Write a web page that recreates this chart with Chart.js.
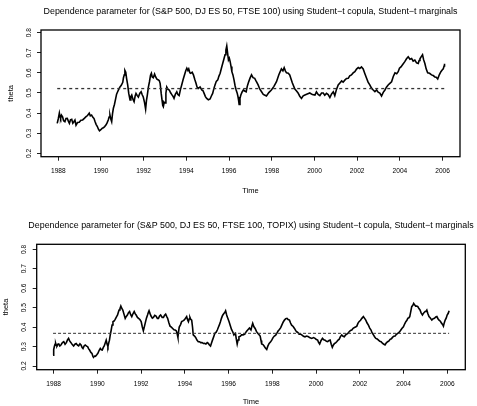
<!DOCTYPE html>
<html>
<head>
<meta charset="utf-8">
<script src="https://cdn.jsdelivr.net/npm/chart.js@4.4.1/dist/chart.umd.min.js"></script>
<style>
  html, body { margin: 0; padding: 0; background: #fff; }
  body { width: 477px; height: 406px; position: relative; overflow: hidden; }
  canvas { position: absolute; left: 0; }
  #topChart { top: 0; }
  #bottomChart { top: 200px; }
</style>
</head>
<body>
<canvas id="topChart" width="477" height="200"></canvas>
<canvas id="bottomChart" width="477" height="210"></canvas>
<script>
// tick labels
const yearTicks = [1988, 1990, 1992, 1994, 1996, 1998, 2000, 2002, 2004, 2006];
const thetaTicks = [0.2, 0.3, 0.4, 0.5, 0.6, 0.7, 0.8];

// panel 1: S&P 500, DJ ES 50, FTSE 100
const years1 = [
  1987.95, 1988.00, 1988.05, 1988.08, 1988.11, 1988.15, 1988.20, 1988.25, 1988.31, 1988.36,
  1988.42, 1988.47, 1988.52, 1988.57, 1988.63, 1988.68, 1988.73, 1988.78, 1988.83, 1988.90,
  1988.98, 1989.06, 1989.14, 1989.22, 1989.30, 1989.37, 1989.45, 1989.50, 1989.56, 1989.62,
  1989.67, 1989.72, 1989.77, 1989.83, 1989.88, 1989.93, 1989.98, 1990.05, 1990.11, 1990.17,
  1990.23, 1990.28, 1990.34, 1990.38, 1990.42, 1990.46, 1990.50, 1990.54, 1990.58, 1990.63,
  1990.69, 1990.73, 1990.78, 1990.84, 1990.89, 1990.95, 1991.02, 1991.05, 1991.09, 1991.12,
  1991.16, 1991.20, 1991.25, 1991.30, 1991.36, 1991.40, 1991.44, 1991.50, 1991.55, 1991.60,
  1991.64, 1991.70, 1991.75, 1991.82, 1991.88, 1991.93, 1991.98, 1992.04, 1992.09, 1992.13,
  1992.17, 1992.22, 1992.27, 1992.32, 1992.36, 1992.40, 1992.45, 1992.51, 1992.56, 1992.62,
  1992.69, 1992.73, 1992.77, 1992.82, 1992.86, 1992.89, 1992.92, 1992.96, 1993.00, 1993.04,
  1993.08, 1993.14, 1993.20, 1993.26, 1993.31, 1993.37, 1993.42, 1993.48, 1993.55, 1993.60,
  1993.66, 1993.72, 1993.78, 1993.85, 1993.91, 1993.97, 1994.02, 1994.07, 1994.11, 1994.16,
  1994.20, 1994.27, 1994.33, 1994.39, 1994.45, 1994.50, 1994.56, 1994.64, 1994.72, 1994.78,
  1994.83, 1994.89, 1994.95, 1995.03, 1995.11, 1995.17, 1995.23, 1995.29, 1995.34, 1995.40,
  1995.47, 1995.52, 1995.58, 1995.64, 1995.70, 1995.76, 1995.81, 1995.85, 1995.89, 1995.93,
  1995.97, 1996.01, 1996.05, 1996.09, 1996.13, 1996.18, 1996.23, 1996.28, 1996.33, 1996.38,
  1996.42, 1996.45, 1996.47, 1996.51, 1996.55, 1996.61, 1996.67, 1996.73, 1996.80, 1996.85,
  1996.91, 1996.98, 1997.05, 1997.12, 1997.20, 1997.28, 1997.36, 1997.44, 1997.52, 1997.60,
  1997.68, 1997.75, 1997.86, 1997.98, 1998.10, 1998.22, 1998.33, 1998.45, 1998.52, 1998.58,
  1998.64, 1998.69, 1998.77, 1998.84, 1998.96, 1999.08, 1999.15, 1999.23, 1999.31, 1999.39,
  1999.47, 1999.55, 1999.66, 1999.78, 1999.90, 2000.02, 2000.09, 2000.17, 2000.25, 2000.33,
  2000.41, 2000.48, 2000.56, 2000.64, 2000.72, 2000.80, 2000.88, 2000.95, 2001.03, 2001.11,
  2001.19, 2001.27, 2001.34, 2001.42, 2001.50, 2001.58, 2001.65, 2001.73, 2001.81, 2001.89,
  2001.97, 2002.05, 2002.12, 2002.20, 2002.28, 2002.36, 2002.44, 2002.51, 2002.59, 2002.67,
  2002.75, 2002.83, 2002.91, 2002.98, 2003.06, 2003.14, 2003.22, 2003.30, 2003.37, 2003.45,
  2003.53, 2003.61, 2003.69, 2003.77, 2003.85, 2003.92, 2003.98, 2004.05, 2004.14, 2004.23,
  2004.31, 2004.39, 2004.47, 2004.55, 2004.62, 2004.70, 2004.78, 2004.86, 2004.90, 2004.94,
  2005.00, 2005.06, 2005.11, 2005.17, 2005.23, 2005.30, 2005.39, 2005.48, 2005.56, 2005.64,
  2005.70, 2005.77, 2005.85, 2005.92, 2005.98, 2006.03, 2006.07, 2006.09
];
const theta1 = [
  0.349, 0.372, 0.400, 0.383, 0.374, 0.390, 0.382, 0.362, 0.357, 0.373,
  0.374, 0.360, 0.349, 0.366, 0.369, 0.350, 0.357, 0.365, 0.340, 0.353,
  0.354, 0.364, 0.366, 0.374, 0.382, 0.388, 0.400, 0.386, 0.390, 0.379,
  0.374, 0.358, 0.344, 0.333, 0.320, 0.312, 0.316, 0.324, 0.327, 0.333,
  0.340, 0.350, 0.366, 0.380, 0.390, 0.370, 0.357, 0.397, 0.424, 0.443,
  0.473, 0.494, 0.506, 0.520, 0.530, 0.538, 0.553, 0.575, 0.590, 0.612,
  0.603, 0.572, 0.540, 0.498, 0.465, 0.483, 0.490, 0.468, 0.457, 0.485,
  0.498, 0.487, 0.480, 0.499, 0.506, 0.491, 0.480, 0.452, 0.420, 0.463,
  0.490, 0.529, 0.556, 0.588, 0.598, 0.580, 0.576, 0.594, 0.580, 0.569,
  0.565, 0.561, 0.548, 0.498, 0.465, 0.439, 0.432, 0.454, 0.450, 0.499,
  0.530, 0.518, 0.515, 0.501, 0.493, 0.484, 0.473, 0.493, 0.506, 0.492,
  0.487, 0.517, 0.540, 0.568, 0.590, 0.611, 0.623, 0.612, 0.620, 0.601,
  0.598, 0.603, 0.590, 0.568, 0.548, 0.529, 0.523, 0.530, 0.515, 0.511,
  0.498, 0.482, 0.473, 0.466, 0.470, 0.485, 0.498, 0.523, 0.540, 0.558,
  0.565, 0.583, 0.598, 0.623, 0.647, 0.670, 0.690, 0.714, 0.734, 0.698,
  0.664, 0.673, 0.656, 0.632, 0.606, 0.590, 0.565, 0.536, 0.515, 0.499,
  0.480, 0.459, 0.443, 0.474, 0.490, 0.505, 0.515, 0.510, 0.506, 0.533,
  0.553, 0.574, 0.590, 0.576, 0.573, 0.556, 0.540, 0.519, 0.506, 0.493,
  0.489, 0.485, 0.502, 0.515, 0.533, 0.556, 0.591, 0.620, 0.610, 0.626,
  0.609, 0.600, 0.598, 0.590, 0.551, 0.520, 0.511, 0.500, 0.484, 0.473,
  0.486, 0.490, 0.495, 0.500, 0.492, 0.490, 0.506, 0.493, 0.487, 0.500,
  0.500, 0.489, 0.498, 0.492, 0.477, 0.495, 0.506, 0.487, 0.518, 0.540,
  0.550, 0.560, 0.554, 0.564, 0.572, 0.573, 0.585, 0.590, 0.600, 0.606,
  0.619, 0.627, 0.622, 0.630, 0.620, 0.596, 0.573, 0.554, 0.540, 0.524,
  0.515, 0.507, 0.515, 0.504, 0.500, 0.485, 0.503, 0.515, 0.529, 0.540,
  0.548, 0.556, 0.582, 0.600, 0.596, 0.606, 0.623, 0.630, 0.643, 0.656,
  0.670, 0.680, 0.668, 0.672, 0.659, 0.664, 0.650, 0.647, 0.662, 0.670,
  0.681, 0.690, 0.666, 0.647, 0.620, 0.600, 0.598, 0.590, 0.587, 0.580,
  0.578, 0.570, 0.592, 0.606, 0.614, 0.620, 0.634, 0.645
];
const mean1 = 0.522;

// panel 2: S&P 500, DJ ES 50, FTSE 100, TOPIX
const years2 = [
  1987.97, 1988.00, 1988.03, 1988.06, 1988.09, 1988.12, 1988.15, 1988.19, 1988.23, 1988.28,
  1988.33, 1988.40, 1988.46, 1988.52, 1988.58, 1988.63, 1988.68, 1988.73, 1988.79, 1988.85,
  1988.91, 1988.97, 1989.03, 1989.09, 1989.14, 1989.20, 1989.25, 1989.30, 1989.34, 1989.39,
  1989.44, 1989.50, 1989.55, 1989.60, 1989.64, 1989.70, 1989.75, 1989.79, 1989.82, 1989.87,
  1989.91, 1989.97, 1990.02, 1990.08, 1990.13, 1990.18, 1990.22, 1990.27, 1990.31, 1990.36,
  1990.40, 1990.44, 1990.48, 1990.52, 1990.55, 1990.59, 1990.63, 1990.67, 1990.71, 1990.76,
  1990.81, 1990.87, 1990.92, 1990.96, 1990.99, 1991.03, 1991.07, 1991.11, 1991.16, 1991.22,
  1991.27, 1991.32, 1991.37, 1991.42, 1991.47, 1991.52, 1991.57, 1991.63, 1991.68, 1991.73,
  1991.77, 1991.83, 1991.88, 1991.94, 1992.00, 1992.05, 1992.10, 1992.15, 1992.19, 1992.24,
  1992.29, 1992.33, 1992.36, 1992.41, 1992.45, 1992.51, 1992.56, 1992.62, 1992.68, 1992.74,
  1992.79, 1992.84, 1992.89, 1992.96, 1993.02, 1993.07, 1993.12, 1993.17, 1993.21, 1993.27,
  1993.32, 1993.38, 1993.44, 1993.50, 1993.55, 1993.59, 1993.62, 1993.65, 1993.68, 1993.71,
  1993.74, 1993.80, 1993.85, 1993.91, 1993.96, 1994.02, 1994.08, 1994.12, 1994.16, 1994.20,
  1994.23, 1994.27, 1994.31, 1994.35, 1994.38, 1994.44, 1994.49, 1994.55, 1994.61, 1994.67,
  1994.72, 1994.78, 1994.84, 1994.90, 1994.96, 1995.02, 1995.07, 1995.12, 1995.17, 1995.22,
  1995.26, 1995.32, 1995.37, 1995.43, 1995.48, 1995.53, 1995.57, 1995.62, 1995.67, 1995.72,
  1995.78, 1995.82, 1995.86, 1995.90, 1995.93, 1995.97, 1996.02, 1996.08, 1996.13, 1996.19,
  1996.24, 1996.28, 1996.31, 1996.35, 1996.39, 1996.43, 1996.47, 1996.53, 1996.59, 1996.66,
  1996.74, 1996.81, 1996.89, 1996.95, 1997.02, 1997.06, 1997.10, 1997.15, 1997.21, 1997.27,
  1997.33, 1997.38, 1997.44, 1997.48, 1997.51, 1997.57, 1997.62, 1997.68, 1997.74, 1997.79,
  1997.85, 1997.91, 1997.97, 1998.03, 1998.09, 1998.15, 1998.20, 1998.26, 1998.32, 1998.38,
  1998.43, 1998.49, 1998.55, 1998.61, 1998.67, 1998.72, 1998.78, 1998.83, 1998.88, 1998.95,
  1999.01, 1999.06, 1999.11, 1999.17, 1999.22, 1999.28, 1999.34, 1999.42, 1999.49, 1999.57,
  1999.65, 1999.72, 1999.80, 1999.88, 1999.95, 2000.01, 2000.07, 2000.11, 2000.16, 2000.22,
  2000.29, 2000.35, 2000.41, 2000.47, 2000.53, 2000.59, 2000.64, 2000.69, 2000.74, 2000.79,
  2000.84, 2000.89, 2000.94, 2001.00, 2001.05, 2001.11, 2001.17, 2001.23, 2001.29, 2001.34,
  2001.40, 2001.45, 2001.51, 2001.57, 2001.63, 2001.69, 2001.75, 2001.80, 2001.86, 2001.91,
  2001.96, 2002.03, 2002.09, 2002.16, 2002.21, 2002.27, 2002.33, 2002.39, 2002.45, 2002.51,
  2002.56, 2002.62, 2002.68, 2002.73, 2002.79, 2002.85, 2002.91, 2002.97, 2003.03, 2003.08,
  2003.15, 2003.21, 2003.27, 2003.33, 2003.38, 2003.44, 2003.49, 2003.55, 2003.61, 2003.67,
  2003.73, 2003.79, 2003.85, 2003.92, 2003.99, 2004.05, 2004.10, 2004.15, 2004.19, 2004.24,
  2004.28, 2004.33, 2004.37, 2004.42, 2004.46, 2004.51, 2004.55, 2004.60, 2004.65, 2004.70,
  2004.75, 2004.80, 2004.86, 2004.92, 2004.98, 2005.02, 2005.06, 2005.11, 2005.16, 2005.22,
  2005.29, 2005.35, 2005.41, 2005.47, 2005.52, 2005.57, 2005.62, 2005.68, 2005.74, 2005.78,
  2005.82, 2005.86, 2005.90, 2005.95, 2005.99, 2006.04, 2006.08
];
const theta2 = [
  0.256, 0.284, 0.300, 0.311, 0.316, 0.305, 0.303, 0.312, 0.313, 0.303,
  0.308, 0.320, 0.325, 0.312, 0.320, 0.334, 0.342, 0.329, 0.320, 0.310,
  0.303, 0.312, 0.316, 0.307, 0.303, 0.314, 0.308, 0.295, 0.290, 0.303,
  0.308, 0.302, 0.300, 0.288, 0.282, 0.270, 0.265, 0.250, 0.244, 0.251,
  0.250, 0.258, 0.265, 0.281, 0.290, 0.283, 0.282, 0.296, 0.303, 0.320,
  0.333, 0.313, 0.300, 0.320, 0.333, 0.362, 0.385, 0.411, 0.428, 0.431,
  0.440, 0.453, 0.462, 0.478, 0.488, 0.495, 0.508, 0.497, 0.488, 0.464,
  0.445, 0.455, 0.462, 0.474, 0.480, 0.464, 0.454, 0.470, 0.480, 0.468,
  0.462, 0.450, 0.445, 0.439, 0.428, 0.402, 0.381, 0.404, 0.423, 0.446,
  0.462, 0.476, 0.484, 0.468, 0.457, 0.446, 0.450, 0.461, 0.457, 0.445,
  0.445, 0.457, 0.462, 0.450, 0.450, 0.461, 0.467, 0.454, 0.445, 0.421,
  0.405, 0.400, 0.393, 0.386, 0.385, 0.383, 0.376, 0.363, 0.347, 0.377,
  0.400, 0.413, 0.428, 0.432, 0.436, 0.444, 0.454, 0.438, 0.428, 0.443,
  0.450, 0.439, 0.436, 0.398, 0.360, 0.354, 0.347, 0.333, 0.325, 0.325,
  0.320, 0.321, 0.316, 0.317, 0.313, 0.320, 0.316, 0.308, 0.303, 0.320,
  0.333, 0.352, 0.368, 0.374, 0.385, 0.399, 0.410, 0.426, 0.445, 0.460,
  0.470, 0.475, 0.484, 0.466, 0.454, 0.443, 0.428, 0.406, 0.388, 0.375,
  0.360, 0.366, 0.368, 0.338, 0.313, 0.334, 0.350, 0.353, 0.360, 0.360,
  0.364, 0.378, 0.388, 0.395, 0.385, 0.404, 0.419, 0.403, 0.393, 0.378,
  0.368, 0.362, 0.354, 0.331, 0.313, 0.310, 0.303, 0.292, 0.285, 0.302,
  0.316, 0.323, 0.333, 0.346, 0.354, 0.359, 0.368, 0.380, 0.388, 0.397,
  0.410, 0.425, 0.436, 0.443, 0.445, 0.439, 0.436, 0.421, 0.410, 0.403,
  0.393, 0.383, 0.376, 0.372, 0.364, 0.364, 0.360, 0.353, 0.350, 0.354,
  0.350, 0.345, 0.342, 0.346, 0.342, 0.336, 0.333, 0.321, 0.313, 0.330,
  0.342, 0.335, 0.333, 0.327, 0.325, 0.331, 0.333, 0.312, 0.296, 0.308,
  0.316, 0.319, 0.325, 0.333, 0.337, 0.351, 0.360, 0.353, 0.350, 0.359,
  0.364, 0.368, 0.376, 0.383, 0.385, 0.394, 0.398, 0.400, 0.405, 0.419,
  0.428, 0.435, 0.445, 0.454, 0.446, 0.436, 0.421, 0.410, 0.395, 0.385,
  0.370, 0.360, 0.349, 0.342, 0.339, 0.333, 0.327, 0.325, 0.317, 0.313,
  0.308, 0.319, 0.325, 0.329, 0.337, 0.340, 0.347, 0.353, 0.354, 0.363,
  0.368, 0.373, 0.381, 0.393, 0.402, 0.417, 0.428, 0.435, 0.445, 0.448,
  0.454, 0.482, 0.505, 0.512, 0.522, 0.513, 0.508, 0.508, 0.505, 0.495,
  0.488, 0.473, 0.462, 0.473, 0.480, 0.482, 0.488, 0.469, 0.454, 0.447,
  0.436, 0.443, 0.445, 0.452, 0.454, 0.443, 0.436, 0.430, 0.419, 0.414,
  0.405, 0.423, 0.436, 0.447, 0.462, 0.471, 0.484
];
const mean2 = 0.368;

Chart.defaults.font.family = "'Liberation Sans', Arial, sans-serif";
Chart.defaults.color = '#000';

// box around the plot region plus the main title
const framePlugin = {
    id: 'frame',
    afterDraw(chart, args, opts) {
        const ctx = chart.ctx;
        const a = chart.chartArea;
        ctx.save();
        ctx.strokeStyle = '#000';
        ctx.lineWidth = 1.3;
        ctx.strokeRect(a.left, a.top, a.right - a.left, a.bottom - a.top);
        ctx.fillStyle = '#000';
        ctx.font = "8.9px 'Liberation Sans', Arial, sans-serif";
        ctx.textAlign = 'center';
        ctx.textBaseline = 'middle';
        ctx.fillText(opts.text, (a.left + a.right) / 2, opts.y);
        ctx.restore();
    }
};

function makeChart(id, years, theta, mean, title, cfg) {
    const tickGrid = { drawOnChartArea: false, drawTicks: true, tickLength: 4, color: '#222', lineWidth: 1 };
    return new Chart(document.getElementById(id), {
        type: 'line',
        data: {
            datasets: [{
                data: years.map((x, i) => ({ x: x, y: theta[i] })),
                borderColor: '#000',
                borderWidth: 1.6,
                pointRadius: 0,
                tension: 0,
                order: 1
            }, {
                data: [{ x: years[0], y: mean }, { x: years[years.length - 1], y: mean }],
                borderColor: '#333',
                borderWidth: cfg.dashWidth,
                borderDash: cfg.dash,
                pointRadius: 0,
                order: 0
            }]
        },
        options: {
            responsive: false,
            animation: false,
            layout: { padding: { top: cfg.padTop, right: cfg.padRight, left: 0, bottom: 0 } },
            plugins: {
                legend: { display: false },
                tooltip: { enabled: false },
                frame: { text: title, y: cfg.titleY }
            },
            scales: {
                x: {
                    type: 'linear',
                    min: cfg.xMin,
                    max: cfg.xMax,
                    afterBuildTicks: s => { s.ticks = yearTicks.map(v => ({ value: v })); },
                    afterFit: s => { s.height = cfg.xHeight; },
                    grid: tickGrid,
                    border: { display: false },
                    ticks: { font: { size: 6.6 }, padding: cfg.xPad, maxRotation: 0, autoSkip: false, callback: v => String(v) },
                    title: { display: true, text: 'Time', font: { size: 7.5 }, padding: { top: 0, bottom: cfg.timePad } }
                },
                y: {
                    min: cfg.yMin,
                    max: cfg.yMax,
                    afterBuildTicks: s => { s.ticks = thetaTicks.map(v => ({ value: v })); },
                    afterFit: s => { s.width = cfg.yWidth; },
                    grid: tickGrid,
                    border: { display: false },
                    ticks: { font: { size: 6.6 }, padding: cfg.yPad, minRotation: 90, maxRotation: 90, crossAlign: 'center', autoSkip: false, callback: v => v.toFixed(1) },
                    title: { display: true, text: 'theta', font: { size: 7.5 }, padding: { top: cfg.thetaPad, bottom: 0 } }
                }
            }
        },
        plugins: [framePlugin]
    });
}

makeChart('topChart', years1, theta1, mean1,
    'Dependence parameter for (S&P 500, DJ ES 50, FTSE 100) using Student\u2212t copula, Student\u2212t marginals',
    { padTop: 30, padRight: 17, yWidth: 41, xHeight: 43.3, xPad: 6.1, timePad: 4.7, yPad: 2.9, thetaPad: 6.8,
      titleY: 11.5, yMin: 0.1831, yMax: 0.8134, xMin: 1987.19, xMax: 2006.815, dash: [3, 3], dashWidth: 1.3 });

makeChart('bottomChart', years2, theta2, mean2,
    'Dependence parameter for (S&P 500, DJ ES 50, FTSE 100, TOPIX) using Student\u2212t copula, Student\u2212t marginals',
    { padTop: 44.3, padRight: 11.7, yWidth: 36.7, xHeight: 40.3, xPad: 6.3, timePad: 3.5, yPad: 3.6, thetaPad: 1.3,
      titleY: 26, yMin: 0.181, yMax: 0.8257, xMin: 1987.223, xMax: 2006.82, dash: [3, 2], dashWidth: 1 });
</script>
</body>
</html>
